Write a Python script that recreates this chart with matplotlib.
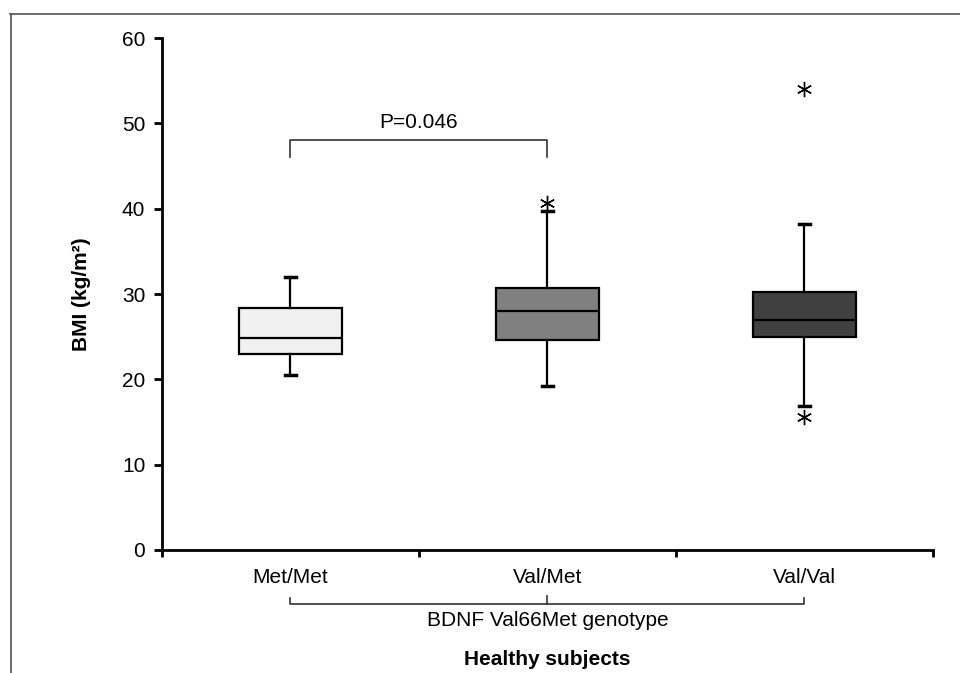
import numpy as np
import matplotlib.pyplot as plt
from matplotlib.lines import Line2D

plt.rcParams['font.family'] = ['Liberation Sans', 'DejaVu Sans']

# BMI box statistics
genotypes = ['Met/Met', 'Val/Met', 'Val/Val']
whislo = [20.5, 19.2, 16.9]
q1 = [23.0, 24.6, 25.0]
med = [24.85, 28.0, 27.0]
q3 = [28.4, 30.7, 30.2]
whishi = [32.0, 39.7, 38.2]
fliers = [[], [40.7], [54.0, 15.6]]
box_colors = ['#f0f0f0', '#808080', '#404040']

stats = []
for i, g in enumerate(genotypes):
    stats.append(dict(label=g, whislo=whislo[i], q1=q1[i], med=med[i],
                      q3=q3[i], whishi=whishi[i], fliers=fliers[i]))

fig = plt.figure(figsize=(9.6, 6.73), dpi=100)
ax = fig.add_axes([0.16875, 0.1828, 0.803, 0.7607])

pos = np.arange(len(genotypes))
bp = ax.bxp(stats, positions=pos, widths=0.4, patch_artist=True,
            capwidths=0.04,
            boxprops=dict(linewidth=1.6, edgecolor='black'),
            medianprops=dict(color='black', linewidth=1.6),
            whiskerprops=dict(color='black', linewidth=1.6),
            capprops=dict(color='black', linewidth=2.5),
            flierprops=dict(marker=(6, 2, 0), markersize=11,
                            markeredgecolor='black', markeredgewidth=1.0,
                            markerfacecolor='black', linestyle='none'))
for patch, c in zip(bp['boxes'], box_colors):
    patch.set_facecolor(c)

ax.set_xlim(-0.5, 2.5)
ax.set_ylim(0, 60)
ax.set_yticks(np.arange(0, 61, 10))
ax.set_xticks(pos)
ax.set_xticklabels(genotypes)
ax.set_xticks([-0.5, 0.5, 1.5, 2.5], minor=True)
ax.tick_params(axis='x', which='major', length=0, pad=13, labelsize=15)
ax.tick_params(axis='x', which='minor', length=5, width=2, direction='out')
ax.tick_params(axis='y', length=6, width=2, labelsize=15, pad=6)

for s in ['top', 'right']:
    ax.spines[s].set_visible(False)
for s in ['left', 'bottom']:
    ax.spines[s].set_linewidth(2)

ax.set_ylabel('BMI (kg/m²)', fontsize=15, fontweight='bold', labelpad=22)

# significance bracket
ax.plot([0, 0, 1, 1], [46.0, 48.0, 48.0, 46.0], color='#333333', lw=1.2)
ax.text(0.5, 49.0, 'P=0.046', ha='center', va='bottom', fontsize=15)

# genotype bracket below the axis
tr = ax.get_xaxis_transform()
ax.plot([0, 0, 2, 2], [-0.094, -0.105, -0.105, -0.094], color='#333333',
        lw=1.2, transform=tr, clip_on=False)
ax.plot([1, 1], [-0.105, -0.09], color='#333333', lw=1.2, transform=tr,
        clip_on=False)
ax.text(1, -0.12, 'BDNF Val66Met genotype', ha='center', va='top',
        fontsize=15, transform=tr)
ax.text(1, -0.195, 'Healthy subjects', ha='center', va='top', fontsize=15,
        fontweight='bold', transform=tr)

# outer frame lines
fig.add_artist(Line2D([0.0104, 1.0], [0.979, 0.979], color='#555555', lw=1.2))
fig.add_artist(Line2D([0.0115, 0.0115], [0.0, 0.979], color='#555555', lw=1.2))

fig.savefig('out.png', dpi=100)
